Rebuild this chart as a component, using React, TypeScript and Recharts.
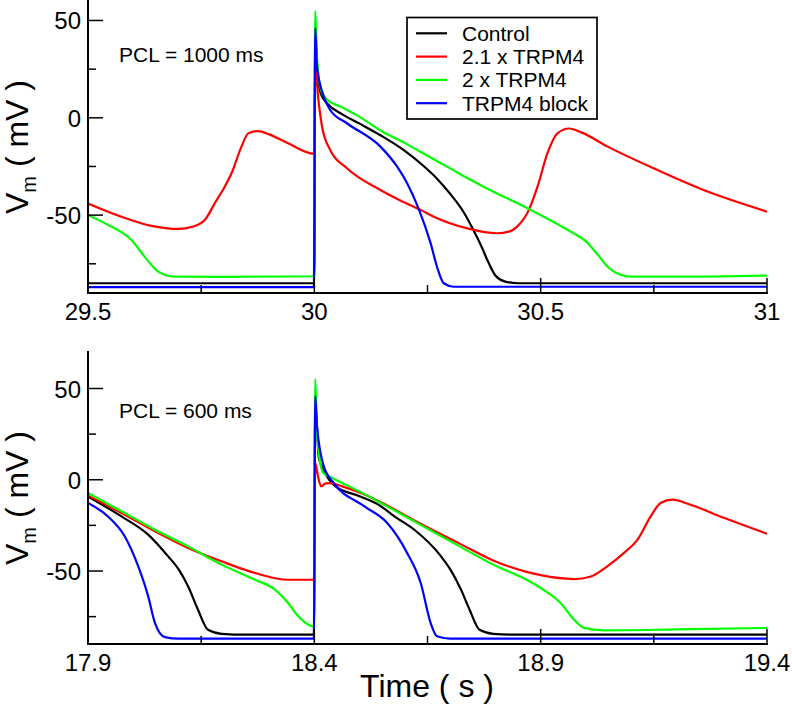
import { LineChart, Line, XAxis, YAxis } from 'recharts';

type Pt = [number, number];

// PCL = 1000 ms, time (s) vs Vm (mV)
const topControl: Pt[] = [
  [29.5, -85], [29.999, -85], [30.0, -85], [30.002, 40], [30.008, 20], [30.015, 12],
  [30.03, 7], [30.06, 2], [30.1, -3], [30.15, -9.5], [30.2, -17], [30.24, -24.5], [30.27, -31],
  [30.3, -39], [30.33, -48.5], [30.35, -57], [30.37, -66.5], [30.385, -74.5], [30.4, -81],
  [30.42, -84], [30.45, -85], [31.0, -85],
];
const topRed: Pt[] = [
  [29.5, -44], [29.574, -50.8], [29.64, -55.5], [29.7, -57.1], [29.73, -56], [29.758, -52.5],
  [29.78, -43.9], [29.802, -35.4], [29.817, -28.5], [29.839, -14.8], [29.854, -8], [29.876, -6.8],
  [29.9, -8.5], [29.942, -13.1], [29.999, -18.5], [30.002, 26], [30.009, 9.2], [30.017, -4.5],
  [30.035, -16.5], [30.072, -25.9], [30.146, -37.1], [30.19, -42.5], [30.235, -47.3],
  [30.264, -50.8], [30.338, -56.8], [30.404, -59.3], [30.43, -58.5], [30.448, -55.9],
  [30.474, -47.3], [30.493, -35.4], [30.515, -18.2], [30.537, -8], [30.563, -5.5], [30.59, -7.5],
  [30.648, -14.8], [30.758, -26.8], [30.869, -37.9], [31.0, -48.2],
];
const topGreen: Pt[] = [
  [29.5, -50], [29.544, -55], [29.596, -62.8], [29.625, -71.3], [29.655, -79], [29.692, -81.6],
  [29.8, -81.7], [29.999, -81.4], [30.002, 55], [30.006, 30], [30.015, 14], [30.025, 10],
  [30.06, 5.5], [30.1, 0.5], [30.15, -7], [30.2, -13], [30.25, -19.5], [30.3, -26], [30.35, -32.5],
  [30.4, -38.5], [30.45, -44], [30.5, -50], [30.54, -55], [30.57, -59], [30.6, -63.5],
  [30.625, -70], [30.65, -77], [30.675, -80.5], [30.7, -81.6], [30.8, -81.6], [31.0, -81],
];
const topBlock: Pt[] = [
  [29.5, -87], [29.999, -87], [30.002, 46], [30.006, 26], [30.021, 10.9], [30.035, 4],
  [30.072, -2.8], [30.146, -14.8], [30.183, -25.1], [30.205, -33.6], [30.231, -47],
  [30.257, -64.5], [30.271, -76.5], [30.286, -85], [30.308, -86.8], [31.0, -86.8],
];

// PCL = 600 ms
const botControl: Pt[] = [
  [17.9, -9.1], [17.974, -20.1], [18.033, -30.1], [18.077, -42], [18.1, -49], [18.121, -58.4],
  [18.143, -71.2], [18.165, -82.2], [18.195, -84.4], [18.25, -84.9], [18.399, -84.9],
  [18.402, 40], [18.41, 12], [18.42, 5.5], [18.447, -3.6], [18.5, -9], [18.547, -14.5],
  [18.577, -20.1], [18.621, -27.4], [18.68, -42], [18.7, -49], [18.724, -60.2], [18.743, -71.2],
  [18.765, -82.2], [18.795, -84.4], [18.85, -84.9], [19.4, -84.9],
];
const botRed: Pt[] = [
  [17.9, -8.7], [17.974, -18.2], [18.048, -28.3], [18.121, -37.4], [18.195, -44.7],
  [18.269, -51.1], [18.342, -54.8], [18.399, -54.8], [18.402, 9.2], [18.408, 2], [18.415, -3.6],
  [18.425, -2], [18.435, -1.8], [18.46, -3.5], [18.5, -7], [18.547, -12.3], [18.621, -22.3],
  [18.721, -35], [18.795, -44.2], [18.869, -50.5], [18.9, -52.3],
  [18.974, -54.4], [19.011, -53], [19.047, -47.5], [19.084, -40.1], [19.114, -32.8],
  [19.143, -20.1], [19.165, -12.7], [19.191, -10.9], [19.231, -13.7], [19.306, -21], [19.4, -29.6],
];
const botGreen: Pt[] = [
  [17.9, -7.3], [17.974, -17.3], [18.048, -27.4], [18.121, -36.5], [18.195, -46.5],
  [18.269, -54.8], [18.313, -60.2], [18.342, -67.5], [18.365, -74.9], [18.399, -80.4],
  [18.402, 55.2], [18.406, 25.6], [18.414, 8], [18.42, 3.7], [18.44, 1], [18.5, -6.5],
  [18.547, -12.7], [18.621, -22.8], [18.721, -36.5], [18.795, -46.5], [18.869, -54.8],
  [18.9, -59.3], [18.944, -67.5], [18.974, -76.7], [18.996, -81.2], [19.04, -82.5],
  [19.2, -82], [19.4, -81.2],
];
const botBlock: Pt[] = [
  [17.9, -12.7], [17.944, -20.1], [17.981, -31], [18.011, -47.5], [18.033, -63.9],
  [18.048, -78.5], [18.07, -86.2], [18.1, -87.1], [18.399, -87.1], [18.402, 45.7],
  [18.406, 29.2], [18.421, 7.3], [18.443, -1.8], [18.51, -14.5], [18.561, -23.7],
  [18.605, -40.1], [18.635, -56.6], [18.657, -78.5], [18.671, -85.8], [18.7, -87.1], [19.4, -87],
];

const seriesNames = ['Control', '2.1 x TRPM4', '2 x TRPM4', 'TRPM4 block'];

const topXTicks = [29.5, 29.75, 30, 30.25, 30.5, 30.75, 31];
const topXMajor = [29.5, 30, 30.5, 31];
const botXTicks = [17.9, 18.15, 18.4, 18.65, 18.9, 19.15, 19.4];
const botXMajor = [17.9, 18.4, 18.9, 19.4];
const yTicks = [-75, -50, -25, 0, 25, 50];
const yMajor = [-50, 0, 50];

const COLORS = ['#000000', '#ff0000', '#00ff00', '#0000ff'];
const FONT = '"Liberation Sans", Arial, Helvetica, sans-serif';
const MAJOR = 15;
const MINOR = 8;

const toPts = (arr: Pt[]) => arr.map(([t, v]) => ({ t, v }));
const isIn = (list: number[], v: number) => list.some((m) => Math.abs(m - v) < 1e-6);

const bottomTick = (major: number[]) => (p: any) => {
  const big = isIn(major, p.payload.value);
  return (
    <g>
      <line x1={p.x} x2={p.x} y1={p.y} y2={p.y - (big ? MAJOR : MINOR)} stroke="#000" strokeWidth={1.5} />
      {big && (
        <text x={p.x} y={p.y + 27} textAnchor="middle" fontSize={24} fontFamily={FONT} fill="#000">
          {String(p.payload.value)}
        </text>
      )}
    </g>
  );
};
const topTick = (major: number[]) => (p: any) => {
  const big = isIn(major, p.payload.value);
  return <line x1={p.x} x2={p.x} y1={p.y} y2={p.y + (big ? MAJOR : MINOR)} stroke="#000" strokeWidth={1.5} />;
};
const leftTick = (p: any) => {
  const big = isIn(yMajor, p.payload.value);
  return (
    <g>
      <line x1={p.x} x2={p.x + (big ? MAJOR : MINOR)} y1={p.y} y2={p.y} stroke="#000" strokeWidth={1.5} />
      {big && (
        <text x={p.x - 7} y={p.y + 9} textAnchor="end" fontSize={24} fontFamily={FONT} fill="#000">
          {String(p.payload.value)}
        </text>
      )}
    </g>
  );
};
const rightTick = (p: any) => {
  const big = isIn(yMajor, p.payload.value);
  return <line x1={p.x} x2={p.x - (big ? MAJOR : MINOR)} y1={p.y} y2={p.y} stroke="#000" strokeWidth={1.5} />;
};

const axisLine = { stroke: '#000', strokeWidth: 2, strokeLinecap: 'square' as const };

function Panel(props: {
  top: number;
  height: number;
  margin: { top: number; right: number; bottom: number; left: number };
  xDomain: [number, number];
  xTicks: number[];
  xMajor: number[];
  yDomain: [number, number];
  series: Pt[][];
}) {
  const { top, height, margin, xDomain, xTicks, xMajor, yDomain, series } = props;
  return (
    <div style={{ position: 'absolute', left: 0, top }}>
      <LineChart width={792} height={height} margin={margin}>
        <XAxis xAxisId="b" dataKey="t" type="number" domain={xDomain} allowDataOverflow ticks={xTicks}
          interval={0} tickSize={0} tickMargin={0} height={40} axisLine={axisLine} tickLine={false}
          tick={bottomTick(xMajor)} />
        <XAxis xAxisId="t" orientation="top" dataKey="t" type="number" domain={xDomain} allowDataOverflow
          ticks={xTicks} interval={0} tickSize={0} tickMargin={0} height={0} axisLine={axisLine}
          tickLine={false} tick={topTick(xMajor)} />
        <YAxis yAxisId="l" type="number" domain={yDomain} allowDataOverflow ticks={yTicks} interval={0}
          tickSize={0} tickMargin={0} width={88} axisLine={axisLine} tickLine={false} tick={leftTick} />
        <YAxis yAxisId="r" orientation="right" type="number" domain={yDomain} allowDataOverflow ticks={yTicks}
          interval={0} tickSize={0} tickMargin={0} width={0} axisLine={axisLine} tickLine={false} tick={rightTick} />
        {series.map((s, i) => (
          <Line key={seriesNames[i]} name={seriesNames[i]} data={toPts(s)} dataKey="v" xAxisId="b" yAxisId="l"
            type="monotone" stroke={COLORS[i]} strokeWidth={2.2} dot={false} activeDot={false}
            isAnimationActive={false} />
        ))}
      </LineChart>
    </div>
  );
}

function YLabel({ x, y }: { x: number; y: number }) {
  return (
    <text x={x} y={y} transform={`rotate(-90, ${x}, ${y})`} textAnchor="middle" fontSize={32} fontFamily={FONT} fill="#000">
      V<tspan fontSize={20} dy={8}>m</tspan>
      <tspan dy={-8}> ( mV )</tspan>
    </text>
  );
}

export default function App() {
  return (
    <div style={{ position: 'absolute', left: 0, top: 0, width: 792, height: 710, background: '#fff', fontFamily: FONT }}>
      <Panel top={0} height={340} margin={{ top: 1, right: 25, bottom: 7, left: 0 }} xDomain={[29.5, 31]}
        xTicks={topXTicks} xMajor={topXMajor} yDomain={[-90, 60]} series={[topControl, topRed, topGreen, topBlock]} />
      <Panel top={340} height={370} margin={{ top: 12, right: 25, bottom: 26, left: 0 }} xDomain={[17.9, 19.4]}
        xTicks={botXTicks} xMajor={botXMajor} yDomain={[-90, 70]} series={[botControl, botRed, botGreen, botBlock]} />
      <svg width={792} height={710} style={{ position: 'absolute', left: 0, top: 0, pointerEvents: 'none' }}>
        <YLabel x={28} y={147} />
        <YLabel x={28} y={498} />
        <text x={119} y={62} fontSize={21} fontFamily={FONT}>PCL = 1000 ms</text>
        <text x={119} y={418} fontSize={21} fontFamily={FONT}>PCL = 600 ms</text>
        <text x={427} y={697} textAnchor="middle" fontSize={32} fontFamily={FONT}>Time ( s )</text>
        <g>
          <rect x={407} y={17.5} width={190} height={101.5} fill="#fff" stroke="#000" strokeWidth={1.7} />
          {seriesNames.map((n, i) => (
            <g key={n}>
              <line x1={416} x2={447} y1={33.3 + i * 23.3} y2={33.3 + i * 23.3} stroke={COLORS[i]} strokeWidth={2.2} />
              <text x={462} y={33.3 + i * 23.3 + 7.5} fontSize={21} fontFamily={FONT} fill="#000">{n}</text>
            </g>
          ))}
        </g>
      </svg>
    </div>
  );
}
